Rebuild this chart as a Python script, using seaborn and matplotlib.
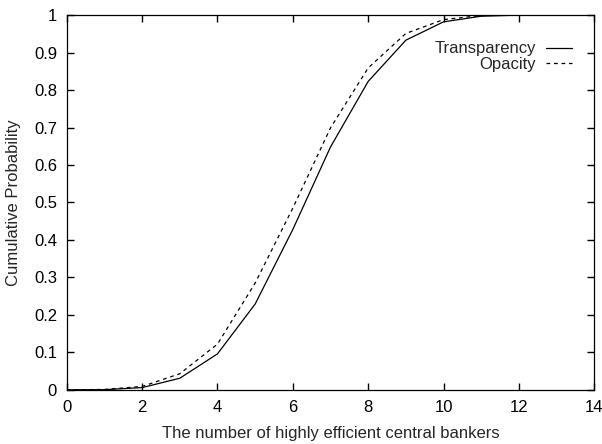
import pandas as pd
import seaborn as sns
import matplotlib.pyplot as plt

# 数据
bankers = list(range(0, 14))
transparency = [0.0, 0.0005, 0.006, 0.031, 0.096, 0.229, 0.428, 0.648, 0.823, 0.933, 0.982, 0.997, 1.0, 1.0]
opacity = [0.0, 0.001, 0.009, 0.043, 0.122, 0.285, 0.485, 0.699, 0.859, 0.951, 0.988, 0.999, 1.0, 1.0]

df = pd.DataFrame({'x': bankers * 2,
                   'y': transparency + opacity,
                   'series': ['Transparency'] * len(bankers) + ['Opacity'] * len(bankers)})

sns.set_style('ticks')
plt.rcParams['font.family'] = ['Liberation Sans', 'DejaVu Sans']
plt.rcParams['axes.axisbelow'] = False

fig = plt.figure(figsize=(6.02, 4.44), dpi=100)
ax = fig.add_axes([0.111, 0.122, 0.876, 0.844])

sns.lineplot(data=df, x='x', y='y', style='series', color='black',
             dashes={'Transparency': '', 'Opacity': (3, 3)}, linewidth=0.9, ax=ax)

ax.set_xlim(0, 14)
ax.set_ylim(0, 1)
ax.set_xticks(range(0, 15, 2))
ax.set_yticks([i / 10 for i in range(11)])
ax.set_yticklabels(['0', '0.1', '0.2', '0.3', '0.4', '0.5', '0.6', '0.7', '0.8', '0.9', '1'])
ax.tick_params(axis='both', which='major', direction='in', bottom=True, left=True, top=True, right=True,
               labelsize=12, length=5, width=1.0, pad=7, colors='black')
ax.minorticks_off()
for s in ax.spines.values():
    s.set_linewidth(0.9)
    s.set_color('black')
ax.set_xlabel('The number of highly efficient central bankers', fontsize=12, labelpad=8)
ax.set_ylabel('Cumulative Probability', fontsize=12, labelpad=9)

leg = ax.legend(loc='upper right', bbox_to_anchor=(0.986, 0.97), frameon=False,
                markerfirst=False, fontsize=12, handlelength=1.56, handletextpad=0.6,
                labelspacing=0.05)
for t in leg.get_texts():
    t.set_ha('right')
leg._legend_box.align = 'right'

plt.savefig('out.png', dpi=100)
